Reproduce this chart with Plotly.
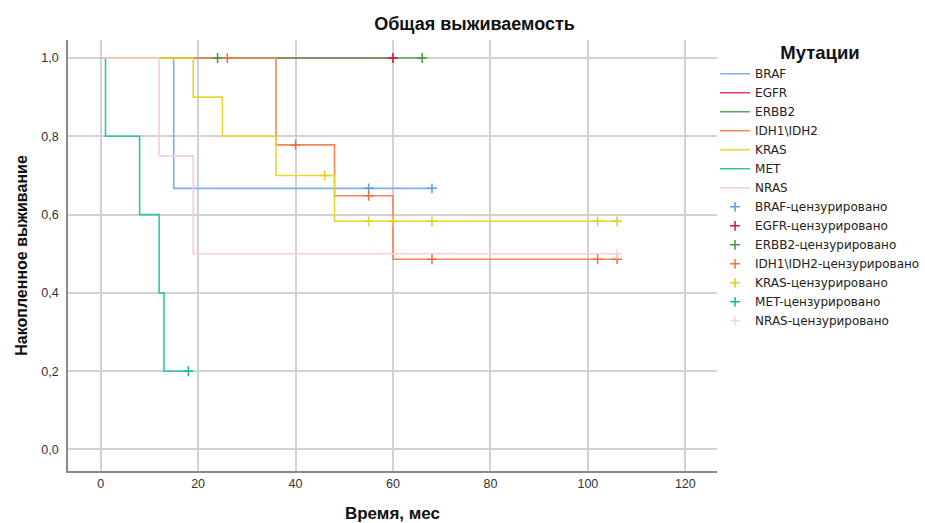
import plotly.graph_objects as go

# ---- data ----
groups = ["BRAF", "EGFR", "ERBB2", "IDH1\\IDH2", "KRAS", "MET", "NRAS"]

step_times = {
    "BRAF": [0, 15, 68],
    "EGFR": [0, 60],
    "ERBB2": [0, 66],
    "IDH1\\IDH2": [0, 36, 48, 60, 106],
    "KRAS": [0, 19, 25, 36, 48, 106],
    "MET": [0, 1, 8, 12, 13, 18],
    "NRAS": [0, 12, 19, 106],
}
step_surv = {
    "BRAF": [1.0, 0.667, 0.667],
    "EGFR": [1.0, 1.0],
    "ERBB2": [1.0, 1.0],
    "IDH1\\IDH2": [1.0, 0.778, 0.648, 0.486, 0.486],
    "KRAS": [1.0, 0.9, 0.8, 0.7, 0.583, 0.583],
    "MET": [1.0, 0.8, 0.6, 0.4, 0.2, 0.2],
    "NRAS": [1.0, 0.75, 0.5, 0.5],
}
cens_times = {
    "BRAF": [55, 68],
    "EGFR": [60],
    "ERBB2": [24, 66],
    "IDH1\\IDH2": [26, 40, 55, 68, 102, 106],
    "KRAS": [46, 55, 60, 68, 102, 106],
    "MET": [18],
    "NRAS": [106],
}
cens_surv = {
    "BRAF": [0.667, 0.667],
    "EGFR": [1.0],
    "ERBB2": [1.0, 1.0],
    "IDH1\\IDH2": [1.0, 0.778, 0.648, 0.486, 0.486, 0.486],
    "KRAS": [0.7, 0.583, 0.583, 0.583, 0.583, 0.583],
    "MET": [0.2],
    "NRAS": [0.5],
}

x_ticks = [0, 20, 40, 60, 80, 100, 120]
y_ticks = [0.0, 0.2, 0.4, 0.6, 0.8, 1.0]

line_colors = {
    "BRAF": "#7fb0ee",
    "EGFR": "#e23a62",
    "ERBB2": "#5ea65e",
    "IDH1\\IDH2": "#f5865a",
    "KRAS": "#e9d62e",
    "MET": "#35c2ad",
    "NRAS": "#fccce0",
}
cens_colors = {
    "BRAF": "#5f9be6",
    "EGFR": "#cc1640",
    "ERBB2": "#3d9a3d",
    "IDH1\\IDH2": "#f26f40",
    "KRAS": "#e2cf24",
    "MET": "#14b39c",
    "NRAS": "#fbd2e4",
}

FONT = "Liberation Sans, Arial, sans-serif"

fig = go.Figure()
for g in groups:
    fig.add_trace(go.Scatter(
        x=step_times[g], y=step_surv[g], mode="lines", name=g,
        line=dict(color=line_colors[g], width=1.6, shape="hv"),
    ))
for g in groups:
    fig.add_trace(go.Scatter(
        x=cens_times[g], y=cens_surv[g], mode="markers",
        name=g + "-цензурировано",
        marker=dict(symbol="cross-thin", size=7, color=cens_colors[g],
                    line=dict(color=cens_colors[g], width=1.5)),
    ))

fig.update_layout(
    width=925, height=523,
    margin=dict(l=68, r=208, t=40, b=52, autoexpand=False),
    paper_bgcolor="white", plot_bgcolor="white",
    separators=", ",
    font=dict(family=FONT, size=12, color="#222"),
    title=dict(text="<b>Общая выживаемость</b>", x=0.513, xanchor="center",
               y=0.954, yanchor="middle", font=dict(size=18, color="#111")),
    legend=dict(
        x=0.997, xanchor="left", y=1.011, yanchor="top",
        title=dict(text="<b>Мутации</b>", side="top center",
                   font=dict(family=FONT, size=18.5, color="#111")),
        font=dict(family="DejaVu Sans, sans-serif", size=12, color="#222"),
        itemwidth=30, tracegroupgap=0, maxheight=500,
        bgcolor="rgba(0,0,0,0)",
    ),
    xaxis=dict(
        range=[-6.7, 126.5], tickvals=x_ticks, ticktext=[str(v) for v in x_ticks],
        showgrid=True, gridcolor="#d2d2d2", gridwidth=1.5,
        showline=True, linecolor="#8a8a8a", linewidth=1.5,
        zeroline=False, ticks="", tickfont=dict(size=12.5, color="#333"),
        automargin=False,
        title=dict(text="<b>Время, мес</b>", font=dict(size=17, color="#111"),
                   standoff=22),
    ),
    yaxis=dict(
        range=[-0.055, 1.046], tickvals=y_ticks, tickformat=".1f",
        showgrid=True, gridcolor="#d2d2d2", gridwidth=1.5,
        showline=True, linecolor="#8a8a8a", linewidth=1.5,
        zeroline=False, ticks="", tickfont=dict(size=12.5, color="#333"),
        ticklabelstandoff=5, automargin=False,
        title=dict(text="<b>Накопленное выживание</b>",
                   font=dict(size=16, color="#111"), standoff=10),
    ),
)

fig.write_html("out.html")
